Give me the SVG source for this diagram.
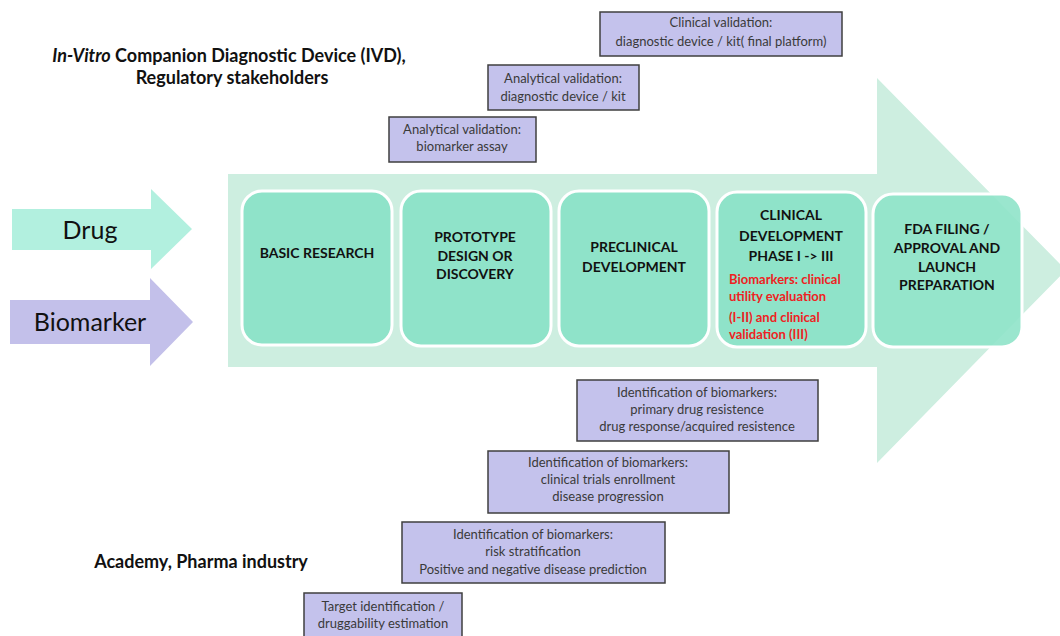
<svg xmlns="http://www.w3.org/2000/svg" width="1060" height="636" viewBox="0 0 1060 636">
<style>
.stage{fill:#8FE3C9;stroke:#ffffff;stroke-width:3}
.st{font-family:Lato,"Liberation Sans",sans-serif;font-weight:bold;font-size:14px;fill:#111;text-anchor:middle}
.red{font-family:Lato,"Liberation Sans",sans-serif;font-weight:bold;font-size:13px;fill:#EE2222}
.pbox{fill:#C4C2EC;stroke:#3f3f3f;stroke-width:1.5}
.pt{font-family:Lato,"Liberation Sans",sans-serif;font-size:13px;fill:#3a3a3a;text-anchor:middle}
.title{font-family:Lato,"Liberation Sans",sans-serif;font-weight:bold;font-size:18px;fill:#111}
.big{font-family:Lato,"Liberation Sans",sans-serif;font-size:25px;fill:#111;text-anchor:middle}
</style>
<rect width="1060" height="636" fill="#ffffff"/>
<g id="main-arrow">
<polygon points="228,174 877,174 877,78 1066,270 877,463 877,367 228,367" fill="#CDEEE0"/>
</g>
<g id="drug-arrow">
<polygon points="12,209 151,209 151,189 192,229 151,269 151,250 12,250" fill="#B2F0DF"/>
<text class="big" x="90" y="239">Drug</text>
</g>
<g id="biomarker-arrow">
<polygon points="10,300 150,300 150,278 193,322 150,366 150,344 10,344" fill="#C3C0EA"/>
<text class="big" x="90" y="331">Biomarker</text>
</g>
<g id="stage-basic">
<rect class="stage" x="242" y="191" width="150" height="154" rx="20"/>
<text class="st" x="317" y="258">BASIC RESEARCH</text>
</g>
<g id="stage-prototype">
<rect class="stage" x="401" y="191" width="150" height="155" rx="20"/>
<text class="st" x="475" y="242">PROTOTYPE</text>
<text class="st" x="475" y="261">DESIGN OR</text>
<text class="st" x="475" y="279">DISCOVERY</text>
</g>
<g id="stage-preclinical">
<rect class="stage" x="559" y="191" width="150" height="155" rx="20"/>
<text class="st" x="634" y="252">PRECLINICAL</text>
<text class="st" x="634" y="272">DEVELOPMENT</text>
</g>
<g id="stage-clinical">
<rect class="stage" x="717" y="192" width="149" height="155" rx="20"/>
<text class="st" x="791" y="220">CLINICAL</text>
<text class="st" x="791" y="241">DEVELOPMENT</text>
<text class="st" x="791" y="261">PHASE I -&gt; III</text>
<text class="red" x="729" y="284">Biomarkers: clinical</text>
<text class="red" x="729" y="301">utility evaluation</text>
<text class="red" x="729" y="322">(I-II) and clinical</text>
<text class="red" x="729" y="339">validation  (III)</text>
</g>
<g id="stage-fda">
<rect class="stage" x="873" y="194" width="149" height="153" rx="20" fill-opacity="0.9"/>
<text class="st" x="947" y="234">FDA FILING /</text>
<text class="st" x="947" y="253">APPROVAL AND</text>
<text class="st" x="947" y="272">LAUNCH</text>
<text class="st" x="947" y="290">PREPARATION</text>
</g>
<g id="title-ivd">
<text class="title" x="229" y="62" text-anchor="middle"><tspan font-style="italic">In-Vitro</tspan> Companion Diagnostic Device (IVD),</text>
<text class="title" x="232" y="84" text-anchor="middle">Regulatory stakeholders</text>
</g>
<g id="title-academy">
<text class="title" x="201" y="568" text-anchor="middle">Academy, Pharma industry</text>
</g>
<g id="box-clinical-validation">
<rect class="pbox" x="600" y="12" width="242" height="44"/>
<text class="pt" x="721" y="27">Clinical validation:</text>
<text class="pt" x="721" y="46">diagnostic device / kit( final platform)</text>
</g>
<g id="box-analytical-device">
<rect class="pbox" x="488" y="65" width="151" height="45"/>
<text class="pt" x="563" y="83">Analytical validation:</text>
<text class="pt" x="563" y="101">diagnostic device / kit</text>
</g>
<g id="box-analytical-assay">
<rect class="pbox" x="389" y="117" width="147" height="45"/>
<text class="pt" x="462" y="134">Analytical validation:</text>
<text class="pt" x="462" y="151">biomarker assay</text>
</g>
<g id="box-resistance">
<rect class="pbox" x="577" y="380" width="241" height="61"/>
<text class="pt" x="697" y="397">Identification of biomarkers:</text>
<text class="pt" x="697" y="414">primary drug resistence</text>
<text class="pt" x="697" y="431">drug response/acquired resistence</text>
</g>
<g id="box-enrollment">
<rect class="pbox" x="488" y="451" width="241" height="62"/>
<text class="pt" x="608" y="467">Identification of biomarkers:</text>
<text class="pt" x="608" y="484">clinical trials enrollment</text>
<text class="pt" x="608" y="501">disease progression</text>
</g>
<g id="box-risk">
<rect class="pbox" x="402" y="522" width="263" height="61"/>
<text class="pt" x="533" y="539">Identification of biomarkers:</text>
<text class="pt" x="533" y="556">risk stratification</text>
<text class="pt" x="533" y="574">Positive and negative disease prediction</text>
</g>
<g id="box-target">
<rect class="pbox" x="304" y="593" width="158" height="44"/>
<text class="pt" x="383" y="611">Target identification /</text>
<text class="pt" x="383" y="628">druggability estimation</text>
</g>
<g id="connectors"></g>
</svg>
